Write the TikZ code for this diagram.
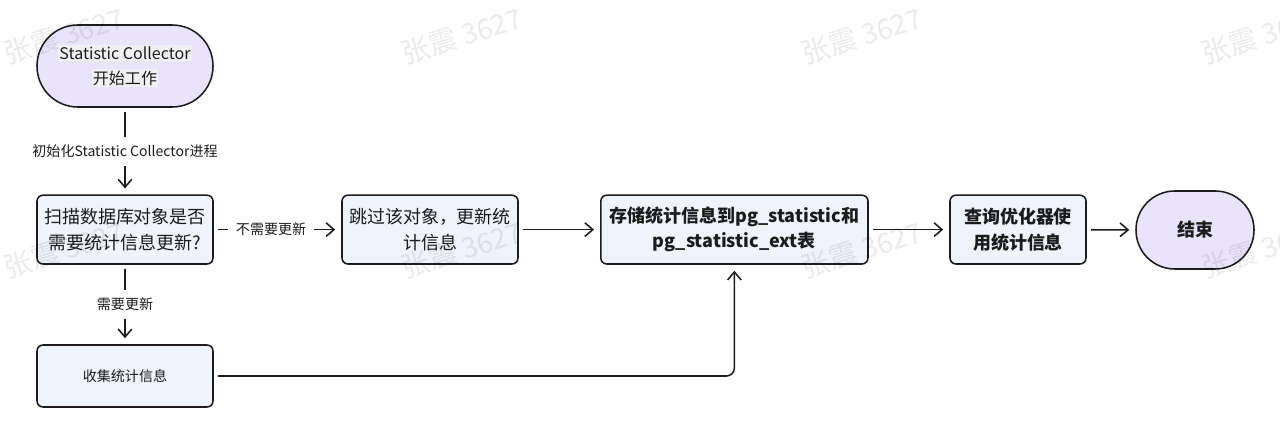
\documentclass[tikz,border=0pt]{standalone}
\usepackage{fontspec}
\setmainfont{Noto Sans CJK SC}
\usepackage{xcolor}
\usetikzlibrary{arrows.meta}
\definecolor{termfill}{HTML}{E9E3FC}
\definecolor{boxfill}{HTML}{EEF3FC}
\definecolor{linecol}{HTML}{1C1C1C}
\definecolor{hlgray}{HTML}{F1F0F3}
\newcommand{\hltext}[1]{{\setlength{\fboxsep}{1pt}\colorbox{hlgray}{#1}}}

\begin{document}
\begin{tikzpicture}[
  terminal/.style={draw=linecol,line width=1.1pt,fill=termfill,align=center,text=linecol},
  stepbox/.style={draw=linecol,line width=1.1pt,fill=boxfill,rounded corners=0.15cm,align=center,text=linecol,minimum height=1.72cm,font=\fontsize{12.8}{18}\selectfont},
  flow/.style={draw=linecol,line width=1.1pt,-{Straight Barb[length=2mm,width=3.4mm]},shorten >=0.15cm,shorten <=0.1cm},
  flowlabel/.style={fill=white,inner sep=0.2cm,text=linecol,font=\fontsize{10}{12}\selectfont},
  watermark/.style={rotate=17,text=black,text opacity=0.08,font=\fontsize{20}{24}\selectfont}
]
\useasboundingbox (0,0) rectangle (32,-10.8);
\node[terminal,minimum width=4.4cm,minimum height=2.05cm,rounded corners=1.02cm,font=\fontsize{11.4}{17.8}\selectfont] (start) at (3.125,-1.65) {\hltext{Statistic Collector}\\\hltext{开始工作}};
\node[stepbox,minimum width=4.4cm] (scan) at (3.125,-5.74) {扫描数据库对象是否\\需要统计信息更新?};
\node[stepbox,minimum width=4.4cm] (skip) at (10.75,-5.74) {跳过该对象，更新统\\计信息};
\node[stepbox,minimum width=6.68cm,font=\fontsize{12.8}{18}\selectfont\bfseries] (store) at (18.36,-5.74) {存储统计信息到pg\_statistic和\\pg\_statistic\_ext表};
\node[stepbox,minimum width=3.4cm,font=\fontsize{12.8}{18}\selectfont\bfseries] (query) at (25.45,-5.74) {查询优化器使\\用统计信息};
\node[terminal,minimum width=2.95cm,minimum height=1.95cm,rounded corners=0.97cm,font=\fontsize{12.8}{18}\selectfont\bfseries] (finish) at (29.875,-5.75) {结束};
\node[stepbox,minimum width=4.4cm,minimum height=1.55cm,font=\fontsize{10}{12}\selectfont] (collect) at (3.125,-9.4) {收集统计信息};

\draw[flow] (start) -- node[flowlabel] {初始化Statistic Collector进程} (scan);
\draw[flow] (scan) -- node[flowlabel,pos=0.45] {不需要更新} (skip);
\draw[flow] (scan) -- node[flowlabel] {需要更新} (collect);
\draw[flow] (skip) -- (store);
\draw[flow] (store) -- (query);
\draw[flow] (query) -- (finish);
\draw[flow,rounded corners=0.2cm] (collect.east) -| (store.south);

\node[watermark] (wm1) at (1.6,-0.9) {张震 3627};
\node[watermark] (wm2) at (11.55,-0.9) {张震 3627};
\node[watermark] (wm3) at (21.55,-0.9) {张震 3627};
\node[watermark] (wm4) at (31.55,-0.9) {张震 3627};
\node[watermark] (wm5) at (1.6,-6.25) {张震 3627};
\node[watermark] (wm6) at (11.55,-6.25) {张震 3627};
\node[watermark] (wm7) at (21.55,-6.25) {张震 3627};
\node[watermark] (wm8) at (31.55,-6.25) {张震 3627};
\end{tikzpicture}
\end{document}
